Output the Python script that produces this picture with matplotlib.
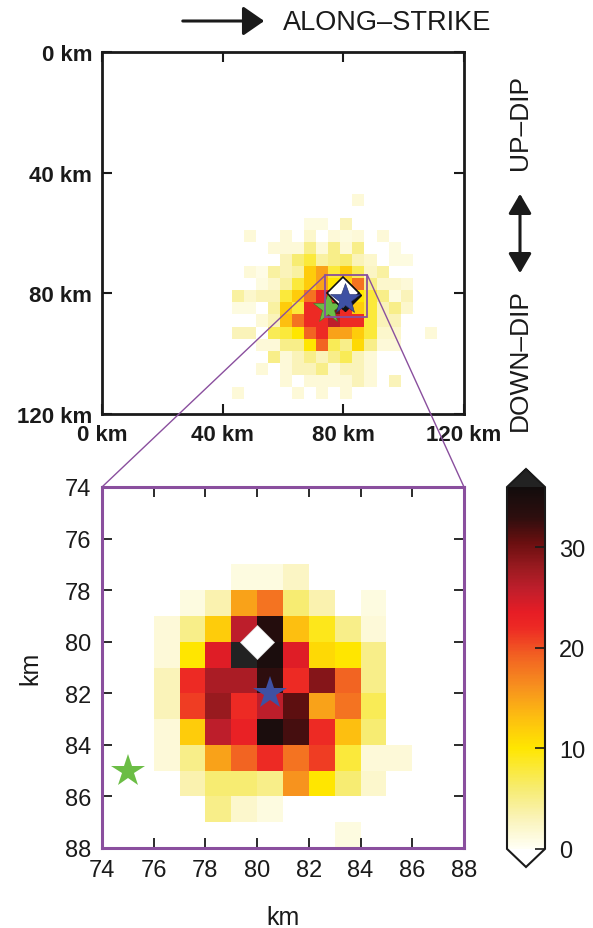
import matplotlib
matplotlib.use("Agg")
import matplotlib.pyplot as plt
import numpy as np
from matplotlib.colors import LinearSegmentedColormap
from matplotlib.patches import Rectangle, FancyArrowPatch, ConnectionPatch

plt.rcParams['font.family'] = ['Liberation Sans', 'DejaVu Sans']

# coarse grid (4 km cells), rows = down-dip, columns = along-strike, 0 = no cell
top_x_edges = np.arange(43, 112, 4)
top_y_edges = np.arange(47, 116, 4)
top_counts = [
    [0, 0, 0, 0, 0, 0, 0, 0, 0, 0, 1.5, 0, 0, 0, 0, 0, 0],
    [0, 0, 0, 0, 0, 0, 0, 0, 0, 0, 0, 0, 0, 0, 0, 0, 0],
    [0, 0, 0, 0, 0, 0, 1, 1, 0, 3, 0, 0, 0, 0, 0, 0, 0],
    [0, 1.5, 0, 0, 1.5, 0, 2, 0, 1.5, 1, 1.5, 0, 1.5, 0, 0, 0, 0],
    [0, 0, 0, 1.5, 1.5, 1.5, 5, 1.5, 5, 1.5, 5, 0, 0, 1, 0, 0, 0],
    [0, 0, 0, 0, 3, 6, 8, 4, 5, 6, 3, 2, 0, 1, 1, 0, 0],
    [0, 1.5, 0.8, 4, 3, 4, 12, 15, 8, 12, 7, 2.5, 4, 0, 0, 0, 0],
    [0, 0, 1, 2, 4, 8, 12, 15, 10, 12, 18, 5, 2, 2, 1.5, 0, 0],
    [4, 2, 3, 3, 8, 12, 18, 22, 22, 25, 10, 8, 5, 1, 3, 0, 0],
    [1, 1, 0, 4, 12, 8, 22, 22, 30, 22, 12, 8, 3, 5, 2, 0, 0],
    [0, 0, 1.5, 3, 13, 18, 22, 22, 26, 22, 22, 8, 3, 3, 0, 0, 0],
    [3, 3, 0, 7, 8, 10, 19, 22, 15, 15, 12, 8, 2, 2, 0, 0, 1.5],
    [0, 0, 1.5, 1.5, 5, 5, 10, 19, 7, 5, 11, 5, 1.5, 1.5, 0, 0, 0],
    [0, 0, 0, 5, 1.5, 3, 5, 3, 5, 7, 3, 1.5, 0, 0, 0, 0, 0],
    [0, 0, 1.5, 0, 1.5, 3, 3, 5, 1.5, 3, 3, 1.5, 0, 0, 0, 0, 0],
    [0, 0, 0, 0, 1.5, 0, 1.5, 1.5, 1.5, 1.5, 3, 1.5, 0, 3, 0, 0, 0],
    [1.5, 0, 0, 0, 0, 1.5, 0, 1.5, 0, 1.5, 0, 0, 0, 0, 0, 0, 0],
]

# fine grid (1 km cells) inside the 74-88 km window
zoom_x_edges = np.arange(76, 87, 1)
zoom_y_edges = np.arange(77, 89, 1)
zoom_counts = [
    [0, 0, 0, 1, 1, 2.5, 0, 0, 0, 0],
    [0, 1, 3.5, 15, 18, 6, 3.5, 0, 1, 0],
    [1.5, 5, 12, 26, 34, 13, 9, 5, 1.5, 0],
    [1.5, 10, 24, 37, 35, 24, 11, 10, 5, 0],
    [3, 22, 27, 27, 33, 22, 29, 19, 5, 0],
    [3, 21, 28, 22, 26, 31, 15, 18, 7, 0],
    [1.5, 12, 26, 23, 35, 32, 22, 13, 6, 0],
    [1.5, 5, 15, 19, 22, 18, 21, 8, 1.5, 1.5],
    [0, 3.5, 6, 6, 5, 16, 10, 6, 2, 0],
    [0, 0, 5, 2, 1, 0, 0, 0, 0, 0],
    [0, 0, 0, 0, 0, 0, 0, 1, 0, 0],
]

# event locations (along-strike km, down-dip km)
diamond_xy = (80.0, 80.0)
blue_star_xy = (80.5, 82.0)
green_star_xy = (75.0, 85.0)

vmin, vmax = 0, 36
cbar_ticks = [0, 10, 20, 30]

cmap = LinearSegmentedColormap.from_list('hot_r', [
    (0.0, '#fffff4'), (3 / 36, '#faf3b8'), (6 / 36, '#f7ec70'),
    (10 / 36, '#ffe600'), (13 / 36, '#fdbf10'), (16 / 36, '#f7921e'),
    (19 / 36, '#f26522'), (22 / 36, '#ed2a24'), (23.5 / 36, '#e71d25'),
    (26 / 36, '#bd1e2b'), (28 / 36, '#9a1a20'), (30.5 / 36, '#6a0f10'),
    (33 / 36, '#2e0e0e'), (1.0, '#120c0c')])
cmap.set_over('#222222')
cmap.set_under('white')

purple = '#8a4f9e'
blue = '#3e51a3'
green = '#6bbd45'


def masked(a):
    a = np.array(a, dtype=float)
    return np.ma.masked_where(a <= 0, a)


W, H = 593, 929
fig = plt.figure(figsize=(W / 100, H / 100), dpi=100)


def fx(px):
    return px / W


def fy(py):
    return 1 - py / H


# ---- overview panel
ax1 = fig.add_axes([fx(102), fy(415), fx(362), 362 / H])
ax1.pcolormesh(top_x_edges, top_y_edges, masked(top_counts), cmap=cmap,
               vmin=vmin, vmax=vmax)
ax1.set_xlim(0, 120)
ax1.set_ylim(120, 0)
ax1.set_xticks([0, 40, 80, 120])
ax1.set_yticks([0, 40, 80, 120])
ax1.set_xticklabels(['0 km', '40 km', '80 km', '120 km'])
ax1.set_yticklabels(['0 km', '40 km', '80 km', '120 km'])
ax1.tick_params(direction='in', length=7, width=1.5, top=True, right=True,
                labelsize=16, pad=7, colors='#1a1a1a')
for lab in ax1.get_xticklabels() + ax1.get_yticklabels():
    lab.set_fontweight('bold')
for sp in ax1.spines.values():
    sp.set_linewidth(2)
    sp.set_color('#1a1a1a')

ax1.plot(*green_star_xy, marker='*', ms=23, color=green, mec='#3f7a2a',
         mew=0.4, zorder=4)
ax1.plot(diamond_xy[0] + 0.4, diamond_xy[1] + 0.5, marker='D', ms=16.5,
         color='#111111', zorder=5)
ax1.plot(*diamond_xy, marker='D', ms=16.5, color='white', mec='#111111',
         mew=1.2, zorder=5)
ax1.plot(*blue_star_xy, marker='*', ms=23, color=blue, mec='#22306a',
         mew=0.4, zorder=6)
ax1.add_patch(Rectangle((74, 74), 14, 14, fill=False, ec=purple, lw=1.3,
                        zorder=7))

# ---- zoomed panel
ax2 = fig.add_axes([fx(102), fy(849), fx(362), 361 / H])
mesh = ax2.pcolormesh(zoom_x_edges, zoom_y_edges, masked(zoom_counts),
                      cmap=cmap, vmin=vmin, vmax=vmax)
ax2.set_xlim(74, 88)
ax2.set_ylim(88, 74)
ax2.set_xticks(np.arange(74, 89, 2))
ax2.set_yticks(np.arange(74, 89, 2))
ax2.tick_params(direction='in', length=7, width=1.3, top=True, right=True,
                labelsize=17, pad=8, colors='#1a1a1a')
for sp in ax2.spines.values():
    sp.set_linewidth(2.2)
    sp.set_color(purple)
ax2.set_xlabel('km', fontsize=18, labelpad=17, color='#1a1a1a')
ax2.set_ylabel('km', fontsize=18, labelpad=16, color='#1a1a1a')

ax2.plot(*diamond_xy, marker='D', ms=17, color='white', mec='#dddddd',
         mew=0.5, zorder=5)
ax2.plot(*blue_star_xy, marker='*', ms=25, color=blue, mew=0, zorder=6)
ax2.plot(*green_star_xy, marker='*', ms=25, color=green, mew=0, zorder=6)

# lines tying the box to the zoomed panel
for xk in (74, 88):
    con = ConnectionPatch(xyA=(xk, 74), coordsA=ax1.transData,
                          xyB=(xk, 74), coordsB=ax2.transData,
                          color=purple, lw=1.0)
    fig.add_artist(con)

# ---- colour bar
cax = fig.add_axes([fx(507), fy(868), fx(38), 398 / H])
cb = fig.colorbar(mesh, cax=cax, extend='both', extendfrac=0.05,
                  ticks=cbar_ticks)
cb.outline.set_linewidth(1.5)
cb.outline.set_edgecolor('#1a1a1a')
cb.ax.tick_params(direction='in', length=7, width=1.2, labelsize=17, pad=10,
                  colors='#1a1a1a')

# ---- direction annotations
fig.add_artist(FancyArrowPatch((fx(180), fy(22)), (fx(267), fy(22)),
                               transform=fig.transFigure,
                               arrowstyle='-|>,head_length=13,head_width=9',
                               mutation_scale=1, lw=2.2, color='#1a1a1a'))
fig.text(fx(283), fy(23), 'ALONG\u2013STRIKE', fontsize=19.5,
         ha='left', va='center', color='#1a1a1a')

fig.add_artist(FancyArrowPatch((fx(520), fy(192)), (fx(520), fy(277)),
                               transform=fig.transFigure,
                               arrowstyle='<|-|>,head_length=12,head_width=7',
                               mutation_scale=1, lw=2.2, color='#1a1a1a'))
fig.text(fx(520), fy(123), 'UP\u2013DIP', fontsize=19, rotation=90,
         ha='center', va='center', color='#1a1a1a')
fig.text(fx(520), fy(360), 'DOWN\u2013DIP', fontsize=19, rotation=90,
         ha='center', va='center', color='#1a1a1a')

fig.savefig('out.png', dpi=100)
